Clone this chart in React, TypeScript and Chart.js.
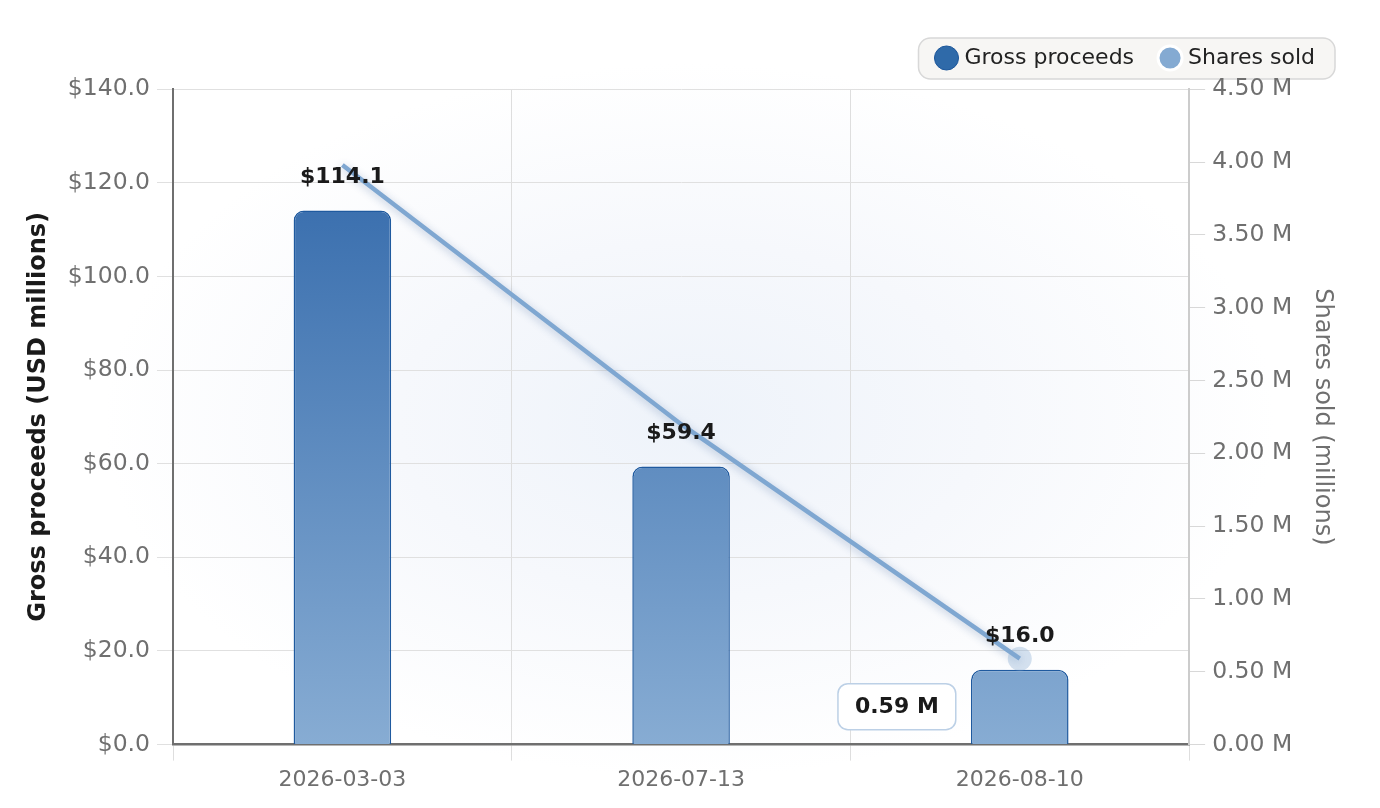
import React, { useEffect, useRef } from 'react';
import { Chart, registerables } from 'chart.js';
Chart.register(...registerables);

const dates = ['2026-03-03', '2026-07-13', '2026-08-10'];
const grossProceeds = [114.1, 59.4, 16.0];
const sharesSold = [3.98, 2.2, 0.59];
const highlightIndex = 2;

const FONT = '"DejaVu Sans", sans-serif';

// soft shadow under the shares line
const lineShadow = {
  id: 'lineShadow',
  beforeDatasetDraw(chart: any, args: any) {
    if (args.index !== 1) return;
    const ctx = chart.ctx;
    ctx.save();
    ctx.shadowColor = 'rgba(40, 80, 140, 0.32)';
    ctx.shadowBlur = 8;
    ctx.shadowOffsetY = 2;
  },
  afterDatasetDraw(chart: any, args: any) {
    if (args.index !== 1) return;
    chart.ctx.restore();
  },
};

// rounded box behind the legend
const legendBox = {
  id: 'legendBox',
  beforeDraw(chart: any) {
    const boxes = chart.legend?.legendHitBoxes;
    if (!boxes || !boxes.length) return;
    const first = boxes[0];
    const last = boxes[boxes.length - 1];
    const x0 = first.left - 21;
    const x1 = last.left + last.width + 20;
    const y0 = first.top - 9;
    const y1 = first.top + first.height + 10;
    const ctx = chart.ctx;
    ctx.save();
    ctx.beginPath();
    ctx.roundRect(x0, y0, x1 - x0, y1 - y0, 12);
    ctx.fillStyle = '#f7f6f4';
    ctx.fill();
    ctx.lineWidth = 1.5;
    ctx.strokeStyle = '#d8d8d8';
    ctx.stroke();
    ctx.restore();
  },
};

// value labels above bars + highlighted point callout
const labels = {
  id: 'labels',
  afterDatasetsDraw(chart: any) {
    const ctx = chart.ctx;
    const bars = chart.getDatasetMeta(0).data;
    ctx.save();
    ctx.font = `bold 22px ${FONT}`;
    ctx.fillStyle = '#1a1a1a';
    ctx.textAlign = 'center';
    ctx.textBaseline = 'middle';
    bars.forEach((el: any, i: number) => {
      ctx.fillText(`$${grossProceeds[i].toFixed(1)}`, el.x, el.y - 33);
    });

    const pt = chart.getDatasetMeta(1).data[highlightIndex];
    if (pt) {
      ctx.beginPath();
      ctx.arc(pt.x, pt.y, 12, 0, Math.PI * 2);
      ctx.fillStyle = 'rgba(132, 170, 210, 0.35)';
      ctx.fill();

      const text = `${sharesSold[highlightIndex].toFixed(2)} M`;
      const w = ctx.measureText(text).width + 34;
      const h = 46;
      const right = pt.x - 64;
      const cy = pt.y + 48;
      ctx.beginPath();
      ctx.roundRect(right - w, cy - h / 2, w, h, 10);
      ctx.fillStyle = '#ffffff';
      ctx.fill();
      ctx.lineWidth = 1.5;
      ctx.strokeStyle = '#bcd0e6';
      ctx.stroke();
      ctx.fillStyle = '#1a1a1a';
      ctx.fillText(text, right - w / 2, cy + 1);
    }
    ctx.restore();
  },
};

const App: React.FC = () => {
  const canvasRef = useRef<HTMLCanvasElement>(null);
  const chartRef = useRef<Chart | null>(null);

  useEffect(() => {
    if (!canvasRef.current) return;
    if (chartRef.current) chartRef.current.destroy();

    chartRef.current = new Chart(canvasRef.current, {
      type: 'bar',
      data: {
        labels: dates,
        datasets: [
          {
            type: 'bar',
            label: 'Gross proceeds',
            data: grossProceeds,
            yAxisID: 'y',
            backgroundColor: (c: any) => {
              const area = c.chart.chartArea;
              if (!area) return '#4a80bb';
              const g = c.chart.ctx.createLinearGradient(0, area.top, 0, area.bottom);
              g.addColorStop(0, '#2b63a7');
              g.addColorStop(1, '#87acd3');
              return g;
            },
            borderColor: '#1f5a9f',
            borderWidth: 1.5,
            borderRadius: 10,
            borderSkipped: 'start',
            barPercentage: 0.36,
            categoryPercentage: 0.8,
            order: 1,
          },
          {
            type: 'line',
            label: 'Shares sold',
            data: sharesSold,
            yAxisID: 'y1',
            borderColor: '#7fa7d1',
            backgroundColor: '#84aad2',
            borderWidth: 4.5,
            pointRadius: 0,
            tension: 0,
            order: 0,
          },
        ],
      },
      options: {
        responsive: true,
        maintainAspectRatio: false,
        animation: false,
        layout: { padding: { left: 24, right: 43, top: 25, bottom: 9 } },
        plugins: {
          legend: {
            position: 'top',
            align: 'end',
            weight: 3000,
            labels: {
              usePointStyle: true,
              boxWidth: 14,
              boxHeight: 17,
              padding: 22,
              color: '#222',
              font: { family: FONT, size: 22 },
              generateLabels: () => [
                { text: 'Gross proceeds ', fillStyle: '#2f6aa9', strokeStyle: '#1d579b', lineWidth: 1, pointStyle: 'circle', datasetIndex: 0, hidden: false, fontColor: '#222' },
                { text: 'Shares sold', fillStyle: '#84aad2', strokeStyle: '#ffffff', lineWidth: 3, pointStyle: 'circle', datasetIndex: 1, hidden: false, fontColor: '#222' },
              ] as any,
            },
          } as any,
          // empty spacer between legend and plot
          title: {
            display: true,
            text: '',
            font: { size: 1 },
            padding: { top: 0, bottom: 9 },
          },
          tooltip: { enabled: false },
        },
        scales: {
          x: {
            offset: true,
            grid: { offset: true, color: '#dedede', tickLength: 16 },
            border: { color: '#6f6f6f', width: 2.5 },
            ticks: { color: '#6f6f6f', font: { family: FONT, size: 22 }, padding: 6 },
          },
          y: {
            position: 'left',
            min: 0,
            max: 140,
            grid: { color: '#e0e0e0', tickLength: 16 },
            border: { color: '#6f6f6f', width: 2 },
            ticks: {
              stepSize: 20,
              color: '#6f6f6f',
              padding: 7,
              font: { family: FONT, size: 23.5 },
              callback: (v: any) => `$${Number(v).toFixed(1)}`,
            },
            title: {
              display: true,
              text: 'Gross proceeds (USD millions)',
              color: '#1a1a1a',
              font: { family: FONT, size: 24, weight: 'bold' },
              padding: { top: 0, bottom: 8 },
            },
          },
          y1: {
            position: 'right',
            min: 0,
            max: 4.5,
            grid: { drawOnChartArea: false, color: '#d8d8d8', tickLength: 16 },
            border: { color: '#cccccc', width: 2 },
            ticks: {
              stepSize: 0.5,
              color: '#6f6f6f',
              padding: 7,
              font: { family: FONT, size: 23.5 },
              callback: (v: any) => `${Number(v).toFixed(2)} M`,
            },
            title: {
              display: true,
              text: 'Shares sold (millions)',
              color: '#6f6f6f',
              font: { family: FONT, size: 24 },
              padding: { top: 0, bottom: 9 },
            },
          },
        },
      },
      plugins: [lineShadow, legendBox, labels],
    });

    return () => {
      chartRef.current?.destroy();
      chartRef.current = null;
    };
  }, []);

  return (
    <div
      style={{
        position: 'fixed',
        inset: 0,
        background: 'radial-gradient(ellipse at 50% 52%, #eef3fa 0%, #f6f8fc 30%, #ffffff 60%)',
      }}
    >
      <canvas ref={canvasRef}></canvas>
    </div>
  );
};

export default App;
